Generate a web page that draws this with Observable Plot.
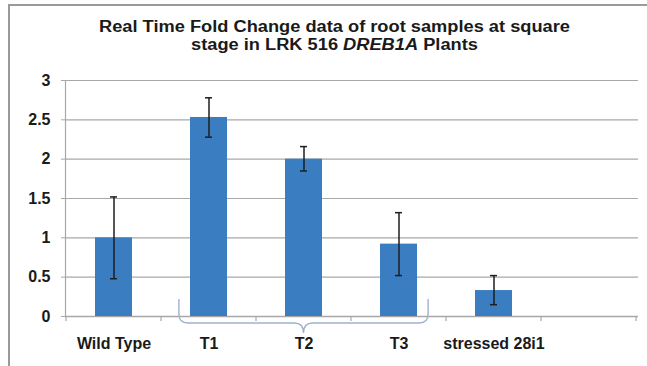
<!DOCTYPE html>
<html>
<head>
<meta charset="utf-8">
<script src="https://cdn.jsdelivr.net/npm/d3@7"></script>
<script src="https://cdn.jsdelivr.net/npm/@observablehq/plot@0.6"></script>
<style>
  html, body { margin: 0; padding: 0; background: #fff; }
  #wrap { position: relative; width: 647px; height: 366px; overflow: hidden; background: #fff; font-family: "Liberation Sans", Arial, sans-serif; }
  #border { position: absolute; left: 8px; top: 4px; width: 700px; height: 400px; border-left: 2px solid #9a9a9a; border-top: 2px solid #9a9a9a; }
  #title { position: absolute; left: 11px; top: 18px; width: 647px; text-align: center; font-weight: 700; font-size: 16px; line-height: 18px; color: #1a1a1a; transform: scaleX(1.14); transform-origin: 50% 0; }
  #chart { position: absolute; left: 0; top: 0; }
</style>
</head>
<body>
<div id="wrap">
  <div id="border"></div>
  <div id="chart"></div>
  <div id="title">Real Time Fold Change data of root samples at square<br>stage in LRK 516 <i>DREB1A</i> Plants</div>
</div>
<script>
const categories = ["Wild Type", "T1", "T2", "T3", "stressed 28i1", ""];
const barCategories = ["Wild Type", "T1", "T2", "T3", "stressed 28i1"];
const values = [1.0, 2.53, 2.0, 0.92, 0.33];
const errLow = [0.48, 2.28, 1.85, 0.52, 0.15];
const errHigh = [1.52, 2.78, 2.16, 1.32, 0.52];
const yTicks = [0, 0.5, 1, 1.5, 2, 2.5, 3];
const braceGroup = ["T1", "T2", "T3"];

const data = barCategories.map((c, i) => ({cat: c, value: values[i], lo: errLow[i], hi: errHigh[i]}));

const gridColor = "#a8a8a8";
const plot = Plot.plot({
  width: 647,
  height: 366,
  marginLeft: 65,
  marginRight: 9,
  marginTop: 80,
  marginBottom: 50,
  style: {background: "transparent", fontFamily: "'Liberation Sans', Arial, sans-serif", color: "#1a1a1a"},
  x: {domain: categories, paddingInner: 0.61, paddingOuter: 0.305},
  y: {domain: [0, 3]},
  marks: [
    Plot.gridY(yTicks.filter(d => d > 0), {stroke: gridColor, strokeOpacity: 1, strokeWidth: 1.2}),
    Plot.axisY(yTicks, {tickSize: 4, tickPadding: 11, fontSize: 16, fontWeight: "bold", stroke: gridColor, label: null, tickFormat: d => String(d), fill: "#1a1a1a"}),
    Plot.frame({anchor: "left", stroke: gridColor, strokeWidth: 1.2}),
    Plot.ruleY([0], {stroke: gridColor, strokeWidth: 1.5}),
    Plot.barY(data, {x: "cat", y: "value", fill: "#3a7ec1"}),
    Plot.ruleX(data, {x: "cat", y1: "lo", y2: "hi", stroke: "#1e1e1e", strokeWidth: 1.5}),
    Plot.tickY(data, {x: "cat", y: "lo", stroke: "#1e1e1e", strokeWidth: 1.5, inset: 15}),
    Plot.tickY(data, {x: "cat", y: "hi", stroke: "#1e1e1e", strokeWidth: 1.5, inset: 15}),
    Plot.axisX({tickSize: 0, tickPadding: 21, fontSize: 16, fontWeight: "bold", label: null, fill: "#1a1a1a"})
  ]
});
document.getElementById("chart").appendChild(plot);

// category boundary ticks and bracket, positioned from the scales
const xs = plot.scale("x");
const ys = plot.scale("y");
const bw = xs.bandwidth;
const step = xs.step;
const y0 = ys.apply(0);
const svg = d3.select(plot);
const bounds = categories.map(c => xs.apply(c) + bw / 2 - step / 2);
bounds.push(xs.apply(categories[categories.length - 1]) + bw / 2 + step / 2);
svg.append("g").selectAll("line").data(bounds).join("line")
  .attr("x1", d => d).attr("x2", d => d)
  .attr("y1", y0).attr("y2", y0 + 5)
  .attr("stroke", gridColor).attr("stroke-width", 1.2);

const bLeft = xs.apply(braceGroup[0]) - 0.3 * bw;
const bRight = xs.apply(braceGroup[2]) + bw + 0.3 * bw;
const bMid = xs.apply(braceGroup[1]) + bw / 2;
const bTop = y0 - 17, bH = y0 + 7, bTip = y0 + 17, r = 9;
const path = `M${bLeft},${bTop} L${bLeft},${bH - r} Q${bLeft},${bH} ${bLeft + r},${bH} L${bMid - r},${bH} Q${bMid},${bH} ${bMid},${bTip} Q${bMid},${bH} ${bMid + r},${bH} L${bRight - r},${bH} Q${bRight},${bH} ${bRight},${bH - r} L${bRight},${bTop}`;
svg.append("path").attr("d", path).attr("fill", "none").attr("stroke", "#9db2cf").attr("stroke-width", 1.4);
</script>
</body>
</html>
